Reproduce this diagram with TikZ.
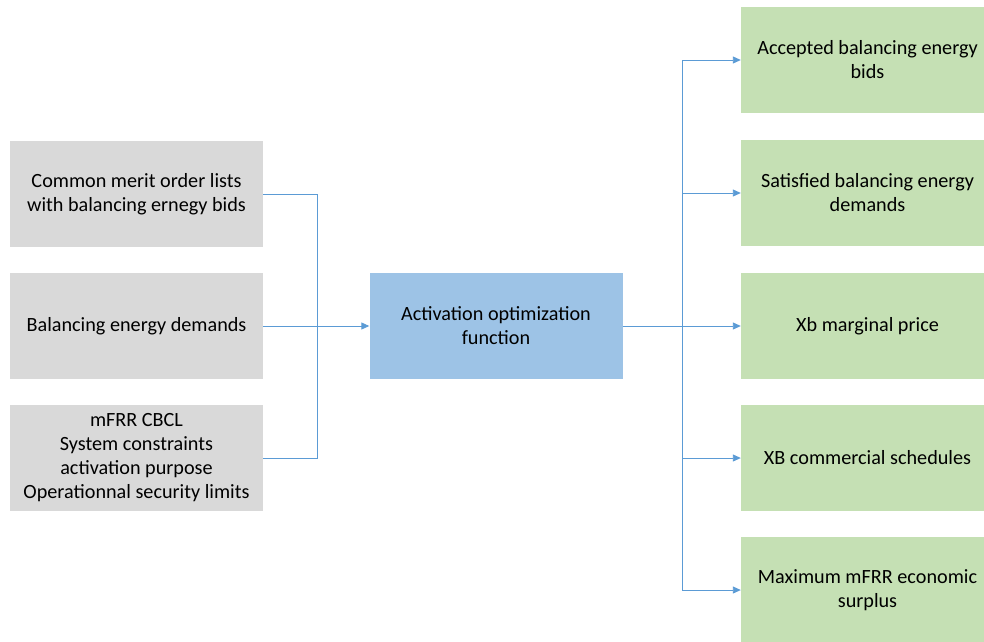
\documentclass[tikz,border=0pt]{standalone}
\usepackage{fontspec}
\setmainfont{Carlito}
\usetikzlibrary{arrows.meta}
\definecolor{inGray}{HTML}{D9D9D9}
\definecolor{fnBlue}{HTML}{9DC3E6}
\definecolor{outGreen}{HTML}{C5E0B4}
\definecolor{linkBlue}{HTML}{5B9BD5}
\tikzset{
	box/.style={minimum width=253pt, minimum height=106pt, inner sep=0pt, align=center, font=\fontsize{20.2}{24}\selectfont},
	inbox/.style={box, fill=inGray},
	fnbox/.style={box, fill=fnBlue},
	outbox/.style={box, fill=outGreen},
	link/.style={draw=linkBlue, line width=0.9pt},
	tip/.style={-{Triangle[length=8pt,width=7pt]}}
}
\begin{document}
\begin{tikzpicture}[x=1pt,y=-1pt]
	\useasboundingbox (0,0) rectangle (984,641);
	
	\node[inbox] (in1) at (136.5,194) {Common merit order lists\\with balancing ernegy bids};
	\node[inbox] (in2) at (136.5,326) {Balancing energy demands};
	\node[inbox] (in3) at (136.5,458) {mFRR CBCL\\System constraints\\activation purpose\\Operationnal security limits};
	
	\node[fnbox] (fn) at (496,326) {Activation optimization\\function};
	
	\node[outbox] (out1) at (867.5,60) {Accepted balancing energy\\bids};
	\node[outbox] (out2) at (867.5,193) {Satisfied balancing energy\\demands};
	\node[outbox] (out3) at (867.5,326) {Xb marginal price};
	\node[outbox] (out4) at (867.5,458) {XB commercial schedules};
	\node[outbox] (out5) at (867.5,590) {Maximum mFRR economic\\surplus};
	
	\coordinate (jl) at (317,326);
	\coordinate (jr) at (682,326);
	
	\draw[link] (in1) -| (jl);
	\draw[link] (in3) -| (jl);
	\draw[link,tip] (in2) -- (fn);
	
	\draw[link] (fn) -- (jr);
	\foreach \i in {1,...,5}
		\draw[link,tip] (jr) |- (out\i);
	
\end{tikzpicture}
\end{document}
